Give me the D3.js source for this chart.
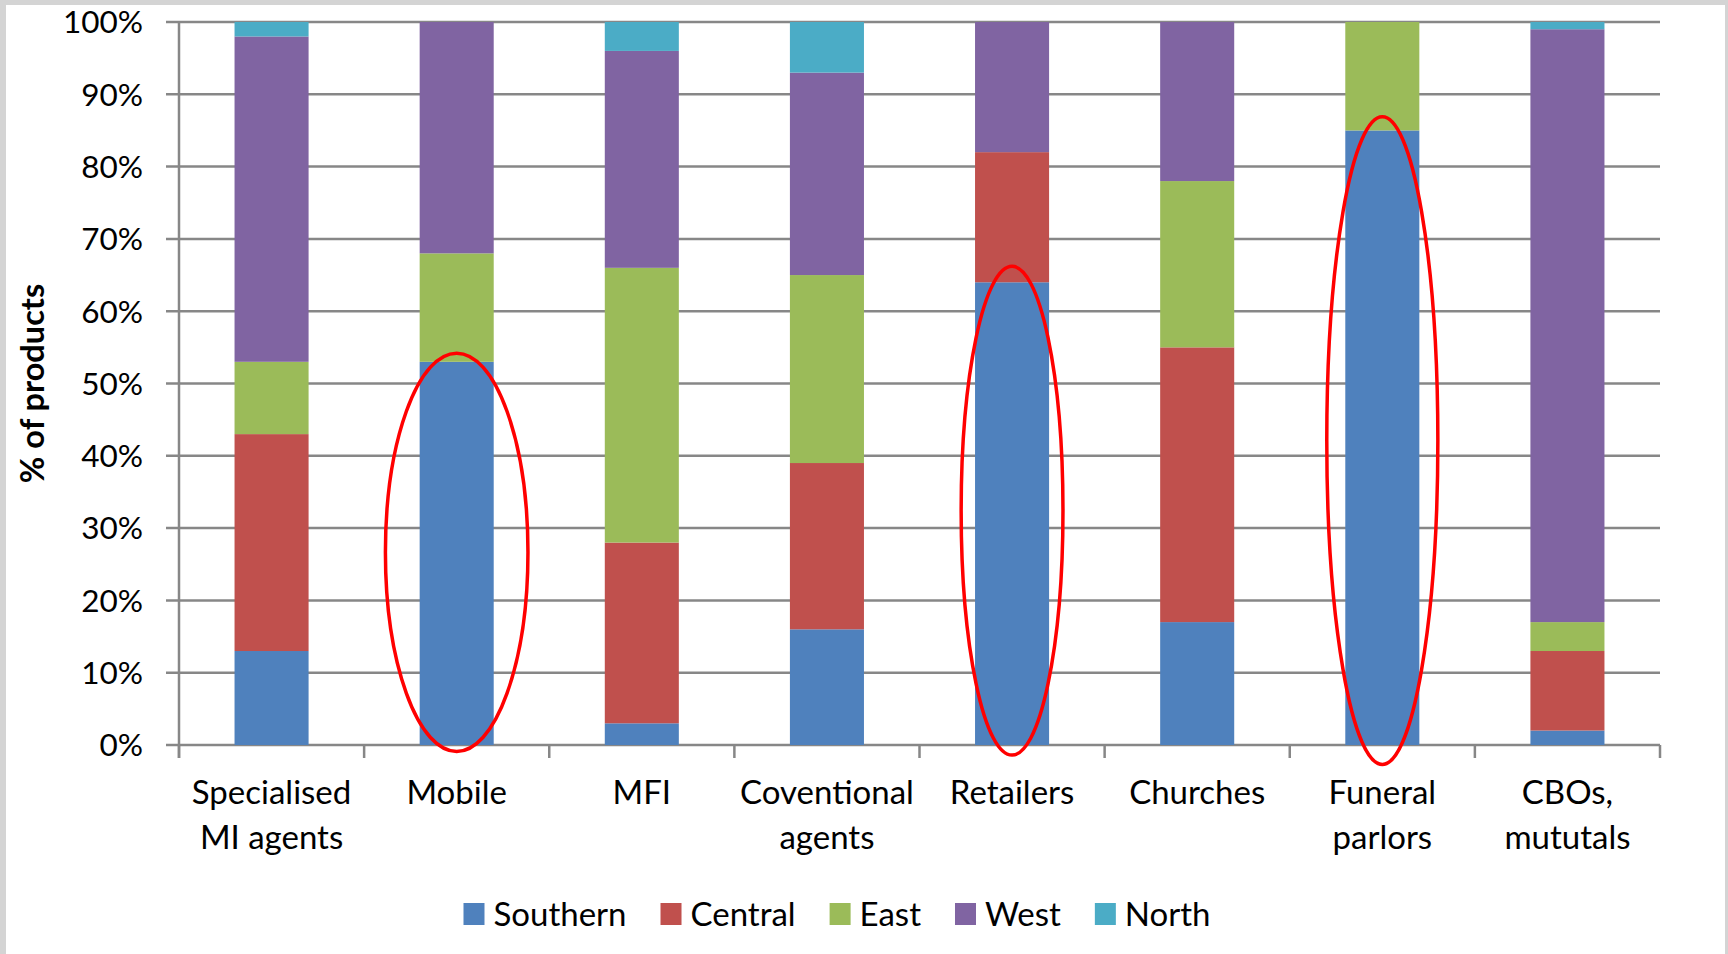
<!DOCTYPE html>
<html>
  <head>
    <meta charset="utf-8">
    <title>% of products by channel and region</title>
    <script src="https://d3js.org/d3.v7.min.js"></script>
    <style>
      body { margin: 0; background: #d4d4d4; }
      svg { display: block; font-family: Lato, "Open Sans", sans-serif; }
      .grid line { stroke: #878787; stroke-width: 2.5; }
      .tickLabel { font-size: 31.5px; fill: #000; }
      .catLabel { font-size: 33px; fill: #000; }
      .legend text { font-size: 33px; fill: #000; }
    </style>
  </head>
  <body>
    <svg id="chart" width="1728" height="954"></svg>
    <script>
      // chart data (percent of products)
      categories = [["Specialised", "MI agents"], ["Mobile"], ["MFI"], ["Coventional", "agents"], ["Retailers"], ["Churches"], ["Funeral", "parlors"], ["CBOs,", "mututals"]];
      regions = ["Southern", "Central", "East", "West", "North"];
      southern = [13, 53, 3, 16, 64, 17, 85, 2];
      central = [30, 0, 25, 23, 18, 38, 0, 11];
      east = [10, 15, 38, 26, 0, 23, 15, 4];
      west = [45, 32, 30, 28, 18, 22, 0, 82];
      north = [2, 0, 4, 7, 0, 0, 0, 1];
      yTicks = [0, 10, 20, 30, 40, 50, 60, 70, 80, 90, 100];
      // red ellipses drawn over some bars (top / bottom in %)
      highlightIdx = [1, 4, 6];
      highlightTop = [54.2, 66.2, 86.9];
      highlightBottom = [-0.9, -1.4, -2.7];
      highlightWidth = [0.77, 0.55, 0.6]; // share of the category step

      colours = ["#4f81bd", "#c0504d", "#9bbb59", "#8064a2", "#4bacc6"];
      series = [southern, central, east, west, north];

      rows = categories.map(function(c, i) {
        let r = { name: c.join(" ") };
        regions.forEach(function(k, j) { r[k] = series[j][i]; });
        return r;
      });

      chart = d3.select("#chart");
      // white page over grey frame
      chart.append("rect")
        .attr("x", 6).attr("y", 5)
        .attr("width", 1719).attr("height", 954)
        .attr("fill", "#fff");

      margin = { top: 22, right: 68, bottom: 209, left: 179 };
      width = 1728, height = 954;

      x = d3.scaleBand()
        .domain(rows.map(function(d) { return d.name; }))
        .range([margin.left, width - margin.right])
        .paddingInner(0.6)
        .paddingOuter(0.3);
      y = d3.scaleLinear()
        .domain([0, 100])
        .range([height - margin.bottom, margin.top]);
      step = x.step();

      // gridlines + y tick marks
      grid = chart.append("g").classed("grid", true);
      grid.selectAll("line")
          .data(yTicks)
        .enter().append("line")
          .attr("x1", margin.left - 13)
          .attr("x2", width - margin.right)
          .attr("y1", function(d) { return y(d); })
          .attr("y2", function(d) { return y(d); });
      // y axis line
      grid.append("line")
        .attr("x1", margin.left).attr("x2", margin.left)
        .attr("y1", y(100)).attr("y2", y(0) + 13);
      // x ticks at category boundaries
      grid.selectAll(".xtick")
          .data(d3.range(categories.length + 1))
        .enter().append("line")
          .attr("class", "xtick")
          .attr("x1", function(i) { return margin.left + i * step; })
          .attr("x2", function(i) { return margin.left + i * step; })
          .attr("y1", y(0))
          .attr("y2", y(0) + 13);

      chart.selectAll(".tickLabel")
          .data(yTicks)
        .enter().append("text")
          .attr("class", "tickLabel")
          .attr("x", margin.left - 36)
          .attr("y", function(d) { return y(d); })
          .attr("dy", "0.36em")
          .attr("text-anchor", "end")
          .text(function(d) { return d + "%"; });

      // stacked bars
      stacked = d3.stack().keys(regions)(rows);
      chart.append("g").selectAll("g")
          .data(stacked)
        .enter().append("g")
          .attr("fill", function(d, i) { return colours[i]; })
        .selectAll("rect")
          .data(function(d) { return d; })
        .enter().append("rect")
          .attr("x", function(d) { return x(d.data.name); })
          .attr("width", x.bandwidth())
          .attr("y", function(d) { return y(d[1]); })
          .attr("height", function(d) { return y(d[0]) - y(d[1]); });

      // category labels
      labels = chart.append("g").selectAll("text")
          .data(categories)
        .enter().append("text")
          .attr("class", "catLabel")
          .attr("text-anchor", "middle")
          .attr("x", function(d, i) { return x(rows[i].name) + x.bandwidth() / 2; })
          .attr("y", y(0) + 59);
      labels.selectAll("tspan")
          .data(function(d) { return d; })
        .enter().append("tspan")
          .attr("x", function() { return d3.select(this.parentNode).attr("x"); })
          .attr("dy", function(d, i) { return i ? 45 : 0; })
          .text(function(d) { return d; });

      // y axis title
      chart.append("text")
        .attr("transform", "translate(44," + y(50) + ") rotate(-90)")
        .attr("text-anchor", "middle")
        .style("font-size", "32.5px")
        .style("font-weight", "bold")
        .text("% of products");

      // red ellipses
      chart.append("g").selectAll("ellipse")
          .data(highlightIdx)
        .enter().append("ellipse")
          .attr("cx", function(c) { return x(rows[c].name) + x.bandwidth() / 2; })
          .attr("cy", function(c, i) { return (y(highlightTop[i]) + y(highlightBottom[i])) / 2; })
          .attr("rx", function(c, i) { return highlightWidth[i] * step / 2; })
          .attr("ry", function(c, i) { return (y(highlightBottom[i]) - y(highlightTop[i])) / 2; })
          .attr("fill", "none")
          .attr("stroke", "#ff0000")
          .attr("stroke-width", 3.5);

      // legend
      legend = chart.append("g").classed("legend", true);
      items = legend.selectAll("g")
          .data(regions)
        .enter().append("g");
      items.append("rect")
        .attr("width", 21).attr("height", 22)
        .attr("y", -11)
        .attr("fill", function(d, i) { return colours[i]; });
      items.append("text")
        .attr("x", 30)
        .attr("dy", "0.36em")
        .text(function(d) { return d; });
      let offset = 0, pos = [];
      items.each(function() {
        pos.push(offset);
        offset += 30 + this.querySelector("text").getComputedTextLength() + 34;
      });
      let total = offset - 34, start = 837 - total / 2;
      items.attr("transform", function(d, i) { return "translate(" + (start + pos[i]) + ",914)"; });
    </script>
  </body>
</html>
